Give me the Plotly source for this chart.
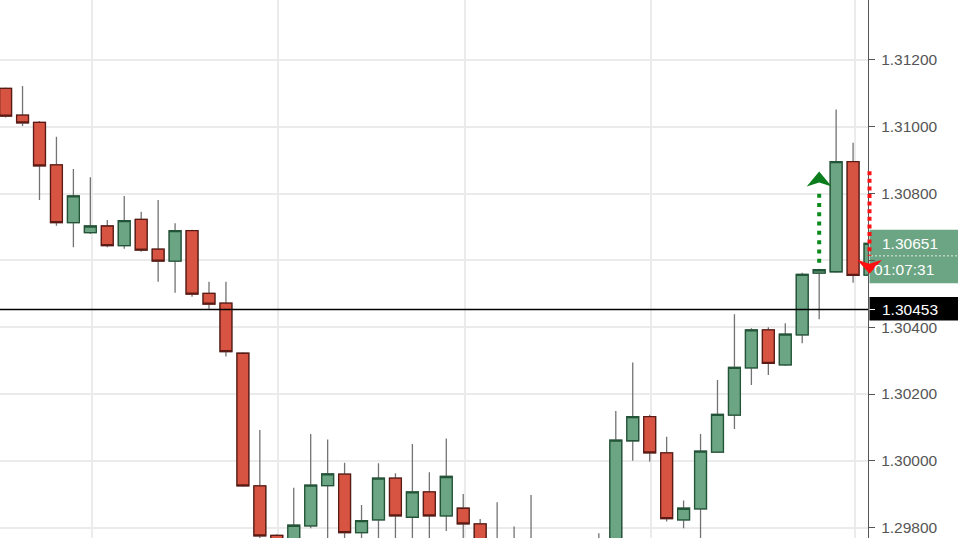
import plotly.graph_objects as go

# ---- data ----
candle_idx = list(range(52))
open_ = [1.31115, 1.31035, 1.31013, 1.30886, 1.30713, 1.30683, 1.30703, 1.30644, 1.30723, 1.30634,
         1.30598, 1.30689, 1.30501, 1.30472, 1.30322, 1.29925, 1.29777, 1.29720, 1.29805, 1.29926,
         1.29960, 1.29785, 1.29823, 1.29948, 1.29831, 1.29907, 1.29835, 1.29858, 1.29811, 1.29710,
         1.29690, 1.29720, 1.29700, 1.29680, 1.29660, 1.29690, 1.29700, 1.30060, 1.30132, 1.30024,
         1.29823, 1.29856, 1.30026, 1.30137, 1.30278, 1.30392, 1.30287, 1.30377, 1.30562, 1.30566,
         1.30896, 1.30556]
high = [1.31118, 1.31122, 1.31017, 1.30970, 1.30874, 1.30849, 1.30721, 1.30793, 1.30746, 1.30781,
        1.30711, 1.30692, 1.30536, 1.30536, 1.30325, 1.30092, 1.29780, 1.29919, 1.30080, 1.30064,
        1.29994, 1.29868, 1.29993, 1.29963, 1.30050, 1.29966, 1.30067, 1.29901, 1.29826, 1.29876,
        1.29803, 1.29898, 1.29760, 1.29750, 1.29755, 1.29783, 1.30149, 1.30294, 1.30138, 1.30072,
        1.29881, 1.30080, 1.30242, 1.30439, 1.30397, 1.30400, 1.30412, 1.30563, 1.30575, 1.31052,
        1.30952, 1.30660]
low = [1.31028, 1.31002, 1.30781, 1.30704, 1.30639, 1.30679, 1.30639, 1.30635, 1.30626, 1.30536,
       1.30503, 1.30491, 1.30455, 1.30312, 1.29922, 1.29745, 1.29680, 1.29700, 1.29798, 1.29740,
       1.29740, 1.29730, 1.29720, 1.29740, 1.29700, 1.29720, 1.29790, 1.29740, 1.29690, 1.29650,
       1.29660, 1.29640, 1.29620, 1.29600, 1.29610, 1.29630, 1.29680, 1.30000, 1.29997, 1.29818,
       1.29798, 1.29740, 1.30026, 1.30095, 1.30227, 1.30257, 1.30284, 1.30352, 1.30424, 1.30563,
       1.30533, 1.30550]
close = [1.31032, 1.31012, 1.30883, 1.30713, 1.30793, 1.30703, 1.30644, 1.30719, 1.30631, 1.30598,
         1.30689, 1.30499, 1.30469, 1.30327, 1.29925, 1.29775, 1.29700, 1.29807, 1.29927, 1.29961,
         1.29785, 1.29821, 1.29948, 1.29835, 1.29907, 1.29835, 1.29953, 1.29811, 1.29710, 1.29690,
         1.29720, 1.29700, 1.29680, 1.29660, 1.29690, 1.29700, 1.30062, 1.30132, 1.30024, 1.29827,
         1.29858, 1.30029, 1.30139, 1.30280, 1.30392, 1.30292, 1.30379, 1.30558, 1.30572, 1.30896,
         1.30555, 1.30651]

price_ticks = [1.298, 1.300, 1.302, 1.304, 1.306, 1.308, 1.310, 1.312]
hidden_tick = 1.306            # covered by the live price label
grid_x = [5.1, 16.05, 27.1, 38.1, 50.1]

level_price = 1.30453          # horizontal line
last_price = 1.30651
countdown = "01:07:31"

green_arrow_x = 48
green_arrow_from, green_arrow_to, green_arrow_tip = 1.30593, 1.30816, 1.30866
red_arrow_px = 1.5             # pixels right of the price axis line
red_arrow_from, red_arrow_to, red_arrow_tip = 1.30867, 1.30614, 1.30560

# ---- styles ----
UP, DOWN = "#6ba583", "#d75442"
UP_B, DOWN_B = "#225437", "#5b1a13"
WICK = "#737375"
GRID = "#ebebeb"
AX = "#555555"
FONT = "Liberation Sans"
PLOT_W, PLOT_H = 868, 538
Y_RANGE = [1.297689, 1.313796]


def y_paper(price):
    """Map a price onto the paper (0..1) scale of the y axis."""
    return (price - Y_RANGE[0]) / (Y_RANGE[1] - Y_RANGE[0])


body_hi = [max(o, c) for o, c in zip(open_, close)]
body_lo = [min(o, c) for o, c in zip(open_, close)]

fig = go.Figure()
# wicks
fig.add_trace(go.Candlestick(
    x=candle_idx, open=open_, high=high, low=low, close=close,
    increasing=dict(line=dict(color=WICK, width=1.3), fillcolor="rgba(0,0,0,0)"),
    decreasing=dict(line=dict(color=WICK, width=1.3), fillcolor="rgba(0,0,0,0)"),
    whiskerwidth=0, hoverinfo="skip"))
# bodies
fig.add_trace(go.Candlestick(
    x=candle_idx, open=open_, high=body_hi, low=body_lo, close=close,
    increasing=dict(line=dict(color=UP_B, width=1.3), fillcolor=UP),
    decreasing=dict(line=dict(color=DOWN_B, width=1.3), fillcolor=DOWN),
    whiskerwidth=0))

# green dotted arrow (up)
fig.add_trace(go.Scatter(
    x=[green_arrow_x, green_arrow_x], y=[green_arrow_from, green_arrow_to], mode="lines",
    line=dict(color="#0c8a1c", width=4, dash="4px,5.3px"), hoverinfo="skip"))

red_x = 1 + red_arrow_px / PLOT_W
box_x0 = 1 + 1.5 / PLOT_W
box_x1 = 1 + 90 / PLOT_W

# red arrow head, paper units on both axes (12.5 px half width, 14 px tall, 4 px notch)
hx = 12.5 / PLOT_W
ty = y_paper(red_arrow_tip)
red_head_path = (f"M {red_x} {ty} "
                 f"L {red_x - hx} {ty + 14 / PLOT_H} "
                 f"L {red_x} {ty + 10 / PLOT_H} "
                 f"L {red_x + hx} {ty + 14 / PLOT_H} Z")

shapes = [
    # live price label box
    dict(type="rect", xref="paper", yref="y", x0=box_x0, x1=box_x1,
         ysizemode="pixel", yanchor=last_price, y0=-40, y1=13.5,
         fillcolor="#6ba583", line=dict(width=0), layer="below"),
    dict(type="line", xref="paper", yref="y", x0=1 + 3 / PLOT_W, x1=box_x1,
         ysizemode="pixel", yanchor=last_price, y0=-12.5, y1=-12.5,
         line=dict(color="rgba(255,255,255,0.8)", width=1, dash="2px,2px"), layer="below"),
    # level label box
    dict(type="rect", xref="paper", yref="y", x0=box_x0, x1=box_x1,
         ysizemode="pixel", yanchor=level_price, y0=-11, y1=12.5,
         fillcolor="#000000", line=dict(width=0), layer="below"),
    # level line
    dict(type="line", xref="paper", yref="y", x0=0, x1=1, y0=level_price, y1=level_price,
         line=dict(color="#000000", width=1.3), layer="above"),
    dict(type="line", xref="paper", yref="y", x0=box_x0, x1=1 + 7 / PLOT_W,
         y0=level_price, y1=level_price, line=dict(color="#ffffff", width=1), layer="above"),
    # red dotted arrow (down)
    dict(type="line", xref="paper", yref="y", x0=red_x, x1=red_x,
         y0=red_arrow_from, y1=red_arrow_to,
         line=dict(color="#ff1010", width=4, dash="4px,3.6px"), layer="above"),
    dict(type="path", xref="paper", yref="paper", path=red_head_path,
         fillcolor="#ff1010", line=dict(width=0), layer="above"),
    # green arrow head
    dict(type="path", xref="x", yref="y", xsizemode="pixel", xanchor=green_arrow_x,
         ysizemode="pixel", yanchor=green_arrow_tip,
         path="M 0 0 L -12.5 -15 L 0 -11 L 12.5 -15 Z",
         fillcolor="#0c7d1c", line=dict(width=0), layer="above"),
]

annotations = [
    dict(xref="paper", yref="y", x=1, y=last_price, xanchor="left", yanchor="middle",
         xshift=12, text=f"{last_price:.5f}", showarrow=False,
         font=dict(color="white", size=15.5, family=FONT)),
    dict(xref="paper", yref="y", x=1, y=last_price, xanchor="left", yanchor="middle",
         xshift=4, yshift=-26.5, text=countdown, showarrow=False,
         font=dict(color="white", size=15.5, family=FONT)),
    dict(xref="paper", yref="y", x=1, y=level_price, xanchor="left", yanchor="middle",
         xshift=12, text=f"{level_price:.5f}", showarrow=False,
         font=dict(color="white", size=15.5, family=FONT)),
]

tick_text = ["" if abs(t - hidden_tick) < 1e-9 else f"{t:.5f}" for t in price_ticks]

fig.update_layout(
    width=958, height=538,
    margin=dict(l=0, r=90, t=0, b=0),
    paper_bgcolor="white", plot_bgcolor="white",
    showlegend=False,
    boxgap=0.3, boxgroupgap=0,
    shapes=shapes, annotations=annotations,
    xaxis=dict(range=[-0.33, 50.88], tickvals=grid_x, showticklabels=False, ticks="",
               showgrid=True, gridcolor=GRID, gridwidth=2, zeroline=False,
               showline=False, rangeslider=dict(visible=False)),
    yaxis=dict(side="right", range=Y_RANGE, tickvals=price_ticks, ticktext=tick_text,
               ticks="outside", ticklen=6, tickcolor=AX, tickwidth=1,
               showline=True, linecolor=AX, linewidth=1.2,
               showgrid=True, gridcolor=GRID, gridwidth=2, zeroline=False,
               ticklabelstandoff=3,
               tickfont=dict(size=15.5, color=AX, family=FONT)),
)

fig.write_html("out.html", config={"displayModeBar": False},
               post_script="document.body.style.margin='0';document.body.style.overflow='hidden';")
